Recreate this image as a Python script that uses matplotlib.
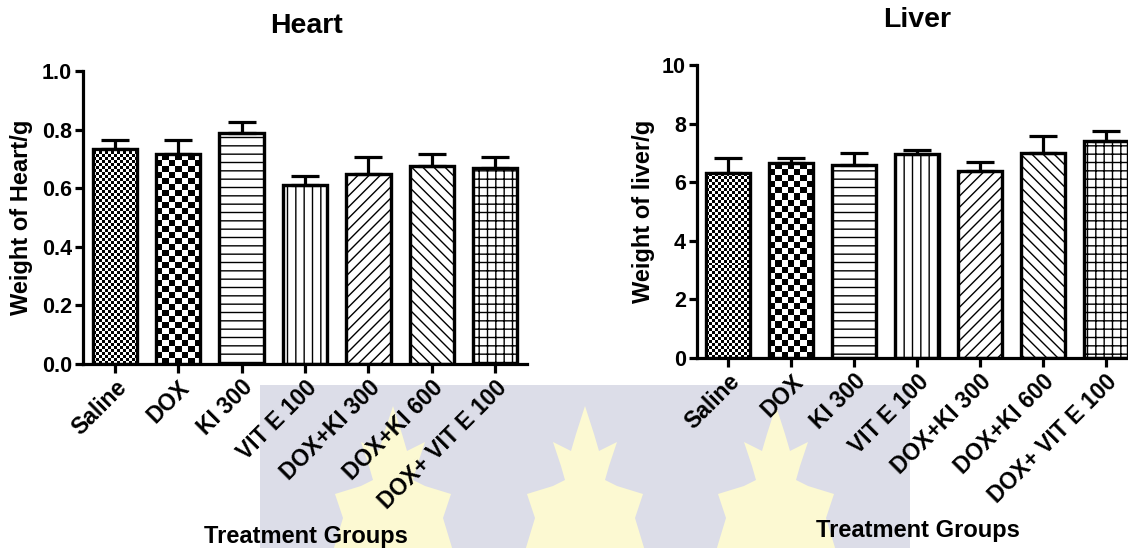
import numpy as np
import matplotlib
matplotlib.use("Agg")
import matplotlib.pyplot as plt
from matplotlib.patches import Rectangle, Polygon
from matplotlib.ticker import FormatStrFormatter, MultipleLocator

plt.rcParams["font.family"] = ["Liberation Sans", "DejaVu Sans"]
plt.rcParams["font.weight"] = "bold"
plt.rcParams["hatch.linewidth"] = 1.0

groups = ["Saline", "DOX", "KI 300", "VIT E 100", "DOX+KI 300", "DOX+KI 600", "DOX+ VIT E 100"]

heart_mean = [0.735, 0.716, 0.790, 0.612, 0.648, 0.677, 0.669]
heart_err = [0.029, 0.050, 0.035, 0.030, 0.059, 0.040, 0.038]

liver_mean = [6.30, 6.64, 6.60, 6.95, 6.39, 6.98, 7.41]
liver_err = [0.53, 0.20, 0.39, 0.14, 0.31, 0.59, 0.34]

# hatch per group; ("checker", cell size in px) is drawn as an image
patterns = [("checker", 3), ("checker", 6), "--", "||", "///", "\\\\\\", "++"]

W, H = 1128, 548
fig = plt.figure(figsize=(W / 100, H / 100), dpi=100)


def add_watermark():
    fig.patches.append(Rectangle((260 / W, 0), 650 / W, 1 - 385 / H, transform=fig.transFigure,
                                 facecolor="#dcdde8", edgecolor="none", zorder=-10))
    half = [(0, 0), (9, 28), (14, 45), (32, 36), (24, 60), (20, 74), (32, 80), (58, 88),
            (50, 112), (60, 145)]
    outline = half + [(-dx, dy) for dx, dy in reversed(half[1:])]
    for cx in (393, 585, 776):
        pts = [((cx + dx) / W, 1 - (406 + dy) / H) for dx, dy in outline]
        fig.patches.append(Polygon(pts, closed=True, transform=fig.transFigure,
                                   facecolor="#fcf9d2", edgecolor="none", zorder=-9))


def add_checker(ax, bar, cell_px):
    x0, y0 = bar.get_x(), bar.get_y()
    w, h = bar.get_width(), bar.get_height()
    (px0, py0), (px1, py1) = ax.transData.transform([(x0, y0), (x0 + w, y0 + h)])
    cols = max(1, round((px1 - px0) / cell_px))
    rows = max(1, round((py1 - py0) / cell_px))
    board = np.indices((rows, cols)).sum(axis=0) % 2
    im = ax.imshow(board, cmap="gray_r", vmin=0, vmax=1, extent=(x0, x0 + w, y0, y0 + h),
                   aspect="auto", interpolation="nearest", zorder=2)
    im.set_clip_path(bar)


def draw_panel(rect, means, errs, ymax, ystep, fmt, ylabel, label_x):
    ax = fig.add_axes(rect)
    ax.set_facecolor("none")
    x = np.arange(len(groups))
    bars = ax.bar(x, means, width=0.7, color="white", edgecolor="black", linewidth=2.3, zorder=1)
    ax.set_xlim(-0.5, len(groups) - 0.5)
    ax.set_ylim(0, ymax)
    for bar, pat in zip(bars, patterns):
        if isinstance(pat, tuple):
            add_checker(ax, bar, pat[1])
        else:
            bar.set_hatch(pat)
    ax.bar(x, means, width=0.7, fill=False, edgecolor="black", linewidth=2.3, zorder=3)
    ax.errorbar(x, means, yerr=[np.zeros(len(errs)), errs], fmt="none", ecolor="black",
                elinewidth=2.3, capsize=10, capthick=2.3, zorder=4)
    ax.set_xlim(-0.5, len(groups) - 0.5)
    ax.set_ylim(0, ymax)

    for side in ("top", "right"):
        ax.spines[side].set_visible(False)
    for side in ("left", "bottom"):
        ax.spines[side].set_linewidth(2.3)
    ax.yaxis.set_major_locator(MultipleLocator(ystep))
    ax.yaxis.set_major_formatter(FormatStrFormatter(fmt))
    ax.tick_params(axis="y", width=2.3, length=6, labelsize=15.5, pad=2)
    ax.tick_params(axis="x", width=2.3, length=6.5, labelsize=16.5, pad=2)
    ax.set_xticks(x)
    ax.set_xticklabels(groups, rotation=45, ha="right", va="top", rotation_mode="anchor",
                       fontweight="bold")
    for lbl in ax.get_yticklabels():
        lbl.set_fontweight("bold")
    ax.set_ylabel(ylabel, fontsize=17, fontweight="bold")
    ax.yaxis.set_label_coords(label_x, 0.5)
    return ax


add_watermark()

draw_panel([83 / W, 1 - 364 / H, 444 / W, 293 / H], heart_mean, heart_err, 1.0, 0.2, "%.1f",
           "Weight of Heart/g", -0.113)
draw_panel([697 / W, 1 - 358 / H, 440 / W, 293 / H], liver_mean, liver_err, 10, 2, "%d",
           "Weight of liver/g", -0.095)

fig.text(306 / W, 1 - 26 / H, "Heart", ha="center", va="center", fontsize=20.5, fontweight="bold")
fig.text(917 / W, 1 - 20 / H, "Liver", ha="center", va="center", fontsize=20.5, fontweight="bold")
fig.text(306 / W, 1 - 536 / H, "Treatment Groups", ha="center", va="center", fontsize=17,
         fontweight="bold")
fig.text(918 / W, 1 - 530 / H, "Treatment Groups", ha="center", va="center", fontsize=17,
         fontweight="bold")

fig.savefig("out.png", dpi=100, facecolor="white")
